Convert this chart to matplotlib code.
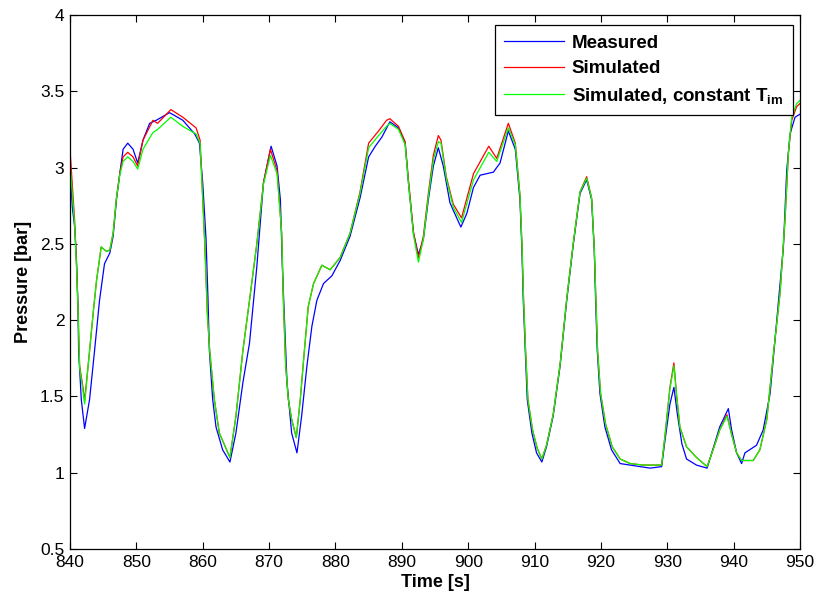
import matplotlib
matplotlib.use("Agg")
import matplotlib.pyplot as plt

plt.rcParams['font.family'] = ['Liberation Sans', 'DejaVu Sans']
plt.rcParams['mathtext.fontset'] = 'custom'
plt.rcParams['mathtext.rm'] = 'Liberation Sans'
plt.rcParams['mathtext.bf'] = 'Liberation Sans:bold'
plt.rcParams['mathtext.it'] = 'Liberation Sans:italic'

# Measured
t_meas = [840, 840.35, 840.7, 840.95, 841.2, 841.3, 841.7, 842.2, 842.95, 843.7, 844.45, 845.2, 846.0,
          846.5, 847.0, 847.5, 848.0, 848.7, 849.5, 850.2, 851.0, 852.0, 853.0, 855.0, 857.0,
          858.8, 859.5, 860.0, 860.5, 860.8, 861.0, 861.5, 862.0, 863.0, 864.1, 865.0, 866.05,
          867.05, 868.15, 869.15, 870.3, 871.2, 871.7, 872.0, 872.3, 872.7, 873.4, 874.2, 874.9,
          875.7, 876.45, 877.2, 878.2, 879.45, 880.7, 882.2, 883.7, 885.0, 886.0, 887.0, 888.2,
          889.5, 890.5, 891.0, 891.75, 892.5, 893.25, 894.0, 894.75, 895.5, 896.25, 897.25,
          897.75, 898.9, 899.8, 900.8, 901.8, 903.8, 904.8, 906.05, 907.1, 907.8, 908.1, 908.3,
          908.6, 908.9, 909.6, 910.3, 911.1, 911.8, 912.8, 913.85, 914.85, 915.85, 916.85,
          917.85, 918.6, 919.0, 919.2, 919.45, 919.85, 920.6, 921.6, 922.9, 924.4, 925.9, 927.4,
          929.15, 929.65, 930.4, 931.0, 931.5, 932.2, 932.9, 934.4, 936.0, 936.7, 937.9, 939.2,
          939.7, 940.45, 941.2, 941.7, 943.45, 944.45, 945.5, 946.5, 947.5, 948.0, 948.5,
          949.25, 950]
p_meas = [3.01, 2.74, 2.61, 2.42, 2.09, 1.80, 1.48, 1.29, 1.48, 1.80, 2.13, 2.37, 2.44,
          2.55, 2.79, 2.96, 3.12, 3.16, 3.12, 3.03, 3.18, 3.29, 3.31, 3.36, 3.31,
          3.22, 3.16, 2.90, 2.53, 2.13, 1.80, 1.48, 1.30, 1.15, 1.07, 1.26, 1.59,
          1.85, 2.35, 2.90, 3.14, 3.01, 2.79, 2.35, 2.02, 1.59, 1.26, 1.13, 1.37,
          1.70, 1.96, 2.13, 2.24, 2.29, 2.39, 2.55, 2.80, 3.07, 3.14, 3.20, 3.30,
          3.26, 3.16, 2.90, 2.57, 2.43, 2.53, 2.79, 3.01, 3.13, 3.01, 2.77,
          2.72, 2.61, 2.70, 2.87, 2.95, 2.97, 3.03, 3.24, 3.12, 2.79, 2.46, 2.13,
          1.80, 1.48, 1.26, 1.13, 1.07, 1.17, 1.37, 1.70, 2.13, 2.50, 2.83,
          2.92, 2.79, 2.46, 2.13, 1.80, 1.52, 1.30, 1.15, 1.06, 1.05, 1.04, 1.03,
          1.04, 1.21, 1.45, 1.56, 1.39, 1.19, 1.09, 1.05, 1.03, 1.13, 1.30, 1.42,
          1.28, 1.13, 1.06, 1.13, 1.18, 1.28, 1.52, 2.00, 2.48, 2.98, 3.22,
          3.33, 3.35]

# Simulated
t_sim = [840, 840.7, 841.0, 841.2, 841.45, 841.95, 842.2, 842.95, 843.5, 844.0, 844.7, 845.5, 846.0,
         846.5, 847.0, 847.5, 848.0, 848.7, 849.5, 850.2, 851.0, 852.5, 853.2, 855.2, 857.0,
         859.0, 859.6, 860.3, 860.7, 861.05, 861.75, 862.5, 864.1, 865.0, 866.05, 867.05,
         868.15, 869.15, 870.2, 871.2, 871.9, 872.15, 872.5, 872.9, 873.4, 874.1, 874.7,
         875.2, 875.9, 876.7, 877.95, 879.2, 880.7, 882.2, 883.7, 885.0, 886.5, 887.7, 888.2,
         889.5, 890.5, 891.0, 891.75, 892.5, 893.25, 894.0, 894.75, 895.5, 895.9, 896.7,
         897.75, 899.0, 900.8, 903.1, 904.3, 906.05, 907.1, 907.8, 908.1, 908.35, 908.65,
         909.0, 909.7, 910.4, 911.1, 911.8, 912.8, 913.85, 914.85, 915.85, 916.85, 917.85,
         918.6, 919.0, 919.25, 919.5, 919.95, 920.7, 921.7, 922.9, 924.4, 926.4, 929.15,
         929.65, 930.4, 931.0, 931.4, 931.9, 932.9, 934.4, 936.0, 936.9, 937.9, 939.0,
         939.7, 940.45, 941.2, 942.95, 943.95, 945.0, 946.0, 947.0, 947.75, 948.25, 948.75,
         949.5, 950]
p_sim = [3.12, 2.65, 2.35, 2.09, 1.70, 1.56, 1.47, 1.80, 2.05, 2.26, 2.48, 2.45, 2.46,
         2.57, 2.80, 2.96, 3.07, 3.10, 3.07, 3.01, 3.18, 3.31, 3.29, 3.38, 3.33,
         3.26, 3.18, 2.51, 2.04, 1.80, 1.48, 1.26, 1.10, 1.37, 1.80, 2.13,
         2.50, 2.90, 3.12, 2.98, 2.57, 2.13, 1.70, 1.48, 1.35, 1.23, 1.48,
         1.74, 2.09, 2.24, 2.36, 2.33, 2.41, 2.57, 2.84, 3.16, 3.24, 3.31, 3.32,
         3.27, 3.17, 2.92, 2.58, 2.41, 2.55, 2.83, 3.08, 3.21, 3.18, 2.94,
         2.76, 2.67, 2.96, 3.14, 3.06, 3.29, 3.16, 2.82, 2.50, 2.13, 1.80,
         1.48, 1.28, 1.16, 1.09, 1.18, 1.38, 1.71, 2.14, 2.51, 2.84, 2.94,
         2.80, 2.47, 2.13, 1.80, 1.52, 1.32, 1.17, 1.09, 1.06, 1.05, 1.05,
         1.24, 1.56, 1.72, 1.51, 1.30, 1.17, 1.10, 1.04, 1.15, 1.28, 1.38,
         1.25, 1.13, 1.08, 1.08, 1.15, 1.35, 1.78, 2.18, 2.66, 3.09, 3.31,
         3.40, 3.42]

# Simulated, constant T_im
t_const = t_sim
p_const = [3.03, 2.62, 2.33, 2.08, 1.69, 1.54, 1.45, 1.80, 2.05, 2.26, 2.48, 2.45, 2.46,
           2.57, 2.80, 2.95, 3.04, 3.07, 3.04, 2.99, 3.12, 3.23, 3.25, 3.33, 3.27,
           3.22, 3.16, 2.51, 2.04, 1.80, 1.48, 1.26, 1.10, 1.37, 1.80, 2.13,
           2.50, 2.89, 3.08, 2.96, 2.57, 2.13, 1.70, 1.48, 1.35, 1.23, 1.48,
           1.74, 2.09, 2.24, 2.36, 2.33, 2.41, 2.57, 2.83, 3.13, 3.21, 3.27, 3.29,
           3.25, 3.15, 2.90, 2.56, 2.38, 2.53, 2.81, 3.05, 3.17, 3.16, 2.93,
           2.74, 2.64, 2.92, 3.10, 3.04, 3.26, 3.15, 2.82, 2.50, 2.13, 1.80,
           1.48, 1.28, 1.16, 1.09, 1.18, 1.38, 1.71, 2.14, 2.51, 2.84, 2.93,
           2.80, 2.47, 2.13, 1.80, 1.52, 1.32, 1.17, 1.09, 1.06, 1.05, 1.05,
           1.24, 1.55, 1.70, 1.51, 1.30, 1.17, 1.10, 1.04, 1.15, 1.28, 1.37,
           1.25, 1.13, 1.08, 1.08, 1.15, 1.35, 1.78, 2.18, 2.67, 3.10, 3.33,
           3.42, 3.44]

x_ticks = [840, 850, 860, 870, 880, 890, 900, 910, 920, 930, 940, 950]
y_ticks = [0.5, 1, 1.5, 2, 2.5, 3, 3.5, 4]
y_ticklabels = ['0.5', '1', '1.5', '2', '2.5', '3', '3.5', '4']
labels = ['Measured', 'Simulated', r'Simulated, constant $\mathbf{T_{im}}$']

fig = plt.figure(figsize=(8.16, 6.01), dpi=100)
ax = fig.add_axes([70/816, 1-549/601, 730/816, 534/601])

ax.plot(t_meas, p_meas, color=(0, 0, 1), lw=0.9, label=labels[0])
ax.plot(t_sim, p_sim, color=(1, 0, 0), lw=0.9, label=labels[1])
ax.plot(t_const, p_const, color=(0, 1, 0), lw=0.9, label=labels[2])

ax.set_xlim(840, 950)
ax.set_ylim(0.5, 4)
ax.set_xticks(x_ticks)
ax.set_yticks(y_ticks)
ax.set_yticklabels(y_ticklabels)
ax.tick_params(direction='in', top=True, right=True, length=5, width=0.8,
               labelsize=12.5, pad=4)
for s in ax.spines.values():
    s.set_linewidth(0.9)

ax.set_xlabel('Time [s]', fontsize=13, fontweight='bold', labelpad=3)
ax.set_ylabel('Pressure [bar]', fontsize=13, fontweight='bold', labelpad=6)

leg = ax.legend(loc='upper right', bbox_to_anchor=(0.990, 0.981), borderaxespad=0,
                prop={'weight': 'bold', 'size': 13.5}, fancybox=False, framealpha=1,
                edgecolor='black', handlelength=3.2, handletextpad=0.4,
                labelspacing=0.45, borderpad=0.5)
leg.get_frame().set_linewidth(0.9)

fig.savefig('out.png', dpi=100)
